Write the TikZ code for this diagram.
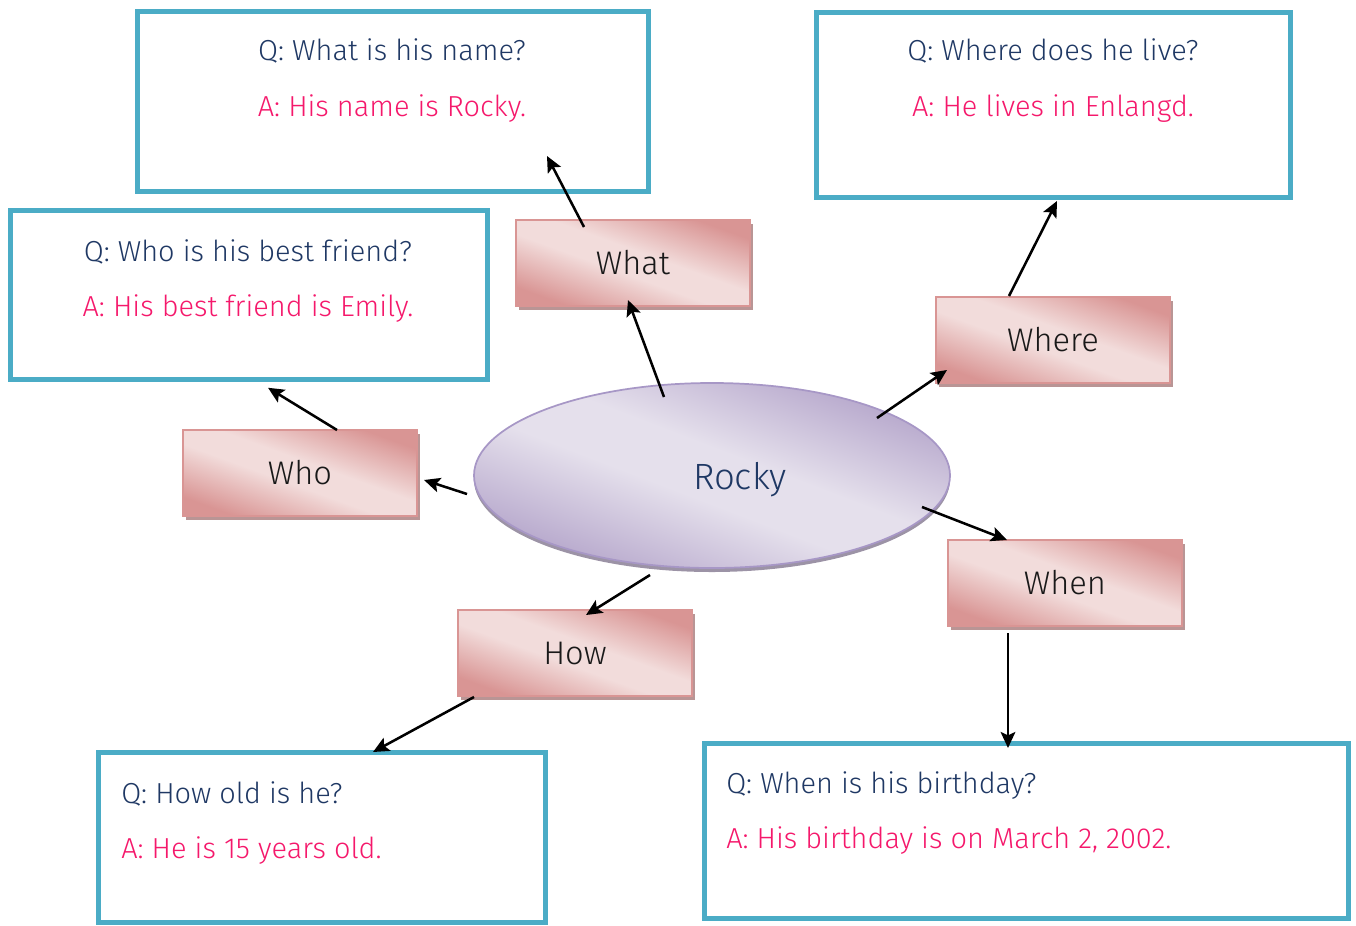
\documentclass[tikz,border=0pt]{standalone}
\usepackage{fontspec}
\setmainfont{Fira Sans}[UprightFont={* Light}]
\usetikzlibrary{shadows,arrows.meta,calc,shapes.geometric}
\definecolor{qblue}{HTML}{1F3864}
\definecolor{apink}{HTML}{F5186B}
\definecolor{frame}{HTML}{4BACC6}
\definecolor{pdark}{HTML}{D99594}
\definecolor{plight}{HTML}{F2DCDB}
\definecolor{pborder}{HTML}{D99594}
\definecolor{pshadow}{HTML}{B99595}
\definecolor{vdark}{HTML}{B5A6CB}
\definecolor{vlight}{HTML}{E5E0EC}
\definecolor{vborder}{HTML}{A797C6}
\definecolor{vshadow}{HTML}{9C93A6}
\pgfdeclarehorizontalshading{pinkgrad}{100bp}{color(0bp)=(pdark); color(25bp)=(pdark); color(45bp)=(plight); color(55bp)=(plight); color(75bp)=(pdark); color(100bp)=(pdark)}
\pgfdeclarehorizontalshading{violetgrad}{100bp}{color(0bp)=(vdark); color(25bp)=(vdark); color(45bp)=(vlight); color(55bp)=(vlight); color(75bp)=(vdark); color(100bp)=(vdark)}
\tikzset{
  pinkbox/.style={rectangle, draw=pborder, line width=1.3pt, minimum width=175.5pt, minimum height=64.5pt,
    inner sep=0pt, shading=pinkgrad, shading angle=70, text=black!90, font=\fontsize{24.5}{28}\selectfont,
    drop shadow={shadow xshift=2.25pt, shadow yshift=-3pt, fill=pshadow, opacity=1}},
  qabox/.style={rectangle, draw=frame, line width=3.75pt, fill=white, inner sep=0pt},
  qtext/.style={text=qblue, font=\fontsize{21.7}{26}\selectfont, inner sep=0pt},
  atext/.style={text=apink, font=\fontsize{21.7}{26}\selectfont, inner sep=0pt},
  arr/.style={-{Stealth[length=12pt,width=11pt,inset=2.5pt]}, line width=1.9pt, black},
}
\begin{document}
\begin{tikzpicture}[x=0.75pt,y=-0.75pt]
\useasboundingbox (0,0) rectangle (1356,925);
% question/answer frames
\node[qabox, minimum width=383.25pt, minimum height=135pt] (qwhat) at (393,101) {};
\node[qabox, minimum width=355.5pt, minimum height=138.75pt] (qwhere) at (1053.5,105) {};
\node[qabox, minimum width=357.75pt, minimum height=127.1pt] (qwho) at (248.5,294.75) {};
\node[qabox, minimum width=335.25pt, minimum height=127.5pt] (qhow) at (322,837.5) {};
\node[qabox, minimum width=483pt, minimum height=131.25pt] (qwhen) at (1026.5,831) {};
% texts
\node[qtext, anchor=base] (qwhatq) at (392,60) {Q: What is his name?};
\node[atext, anchor=base] (qwhata) at (392,116) {A: His name is Rocky.};
\node[qtext, anchor=base] (qwhereq) at (1053,60) {Q: Where does he live?};
\node[atext, anchor=base] (qwherea) at (1053,116) {A: He lives in Enlangd.};
\node[qtext, anchor=base] (qwhoq) at (248,261) {Q: Who is his best friend?};
\node[atext, anchor=base] (qwhoa) at (248,316) {A: His best friend is Emily.};
\node[qtext, anchor=base west] (qhowq) at (121,803) {Q: How old is he?};
\node[atext, anchor=base west] (qhowa) at (121,858) {A: He is 15 years old.};
\node[qtext, anchor=base west] (qwhenq) at (726,793) {Q: When is his birthday?};
\node[atext, anchor=base west] (qwhena) at (726,848) {A: His birthday is on March 2, 2002.};
% central ellipse
\node[ellipse, draw=vborder, line width=1.3pt, minimum width=357pt, minimum height=138.75pt, inner sep=0pt,
  shading=violetgrad, shading angle=69,
  drop shadow={shadow xshift=0pt, shadow yshift=-3pt, fill=vshadow, opacity=1}] (rocky) at (712,475.5) {};
\node[text=qblue, font=\fontsize{27.4}{32}\selectfont, inner sep=0pt] (rockytxt) at (740,480) {Rocky};
% pink boxes
\node[pinkbox] (what) at (633,263) {What};
\node[pinkbox] (where) at (1053,340) {Where};
\node[pinkbox] (who) at (300,473) {Who};
\node[pinkbox] (how) at (575,653) {How};
\node[pinkbox] (when) at (1065,583) {When};
% connectors
\draw[arr] ($(rocky.center)+(-48,-78.5)$) -- ($(what.center)+(-5,37)$);
\draw[arr] ($(what.center)+(-49,-36)$) -- ($(qwhat.center)+(154,55)$);
\draw[arr] ($(rocky.center)+(165,-57.5)$) -- ($(where.center)+(-106,30)$);
\draw[arr] ($(where.center)+(-44,-44)$) -- ($(qwhere.center)+(3.5,96)$);
\draw[arr] ($(rocky.center)+(-245,18.5)$) -- ($(who.center)+(124,7)$);
\draw[arr] ($(who.center)+(37,-43)$) -- ($(qwho.center)+(19.5,93)$);
\draw[arr] ($(rocky.center)+(210,31.5)$) -- ($(when.center)+(-58,-43)$);
\draw[arr] ($(when.center)+(-57,50)$) -- ($(qwhen.center)+(-18.5,-83)$);
\draw[arr] ($(rocky.center)+(-62,99.5)$) -- ($(how.center)+(11,-38)$);
\draw[arr] ($(how.center)+(-101,44)$) -- ($(qhow.center)+(51,-85.5)$);
\end{tikzpicture}
\end{document}
